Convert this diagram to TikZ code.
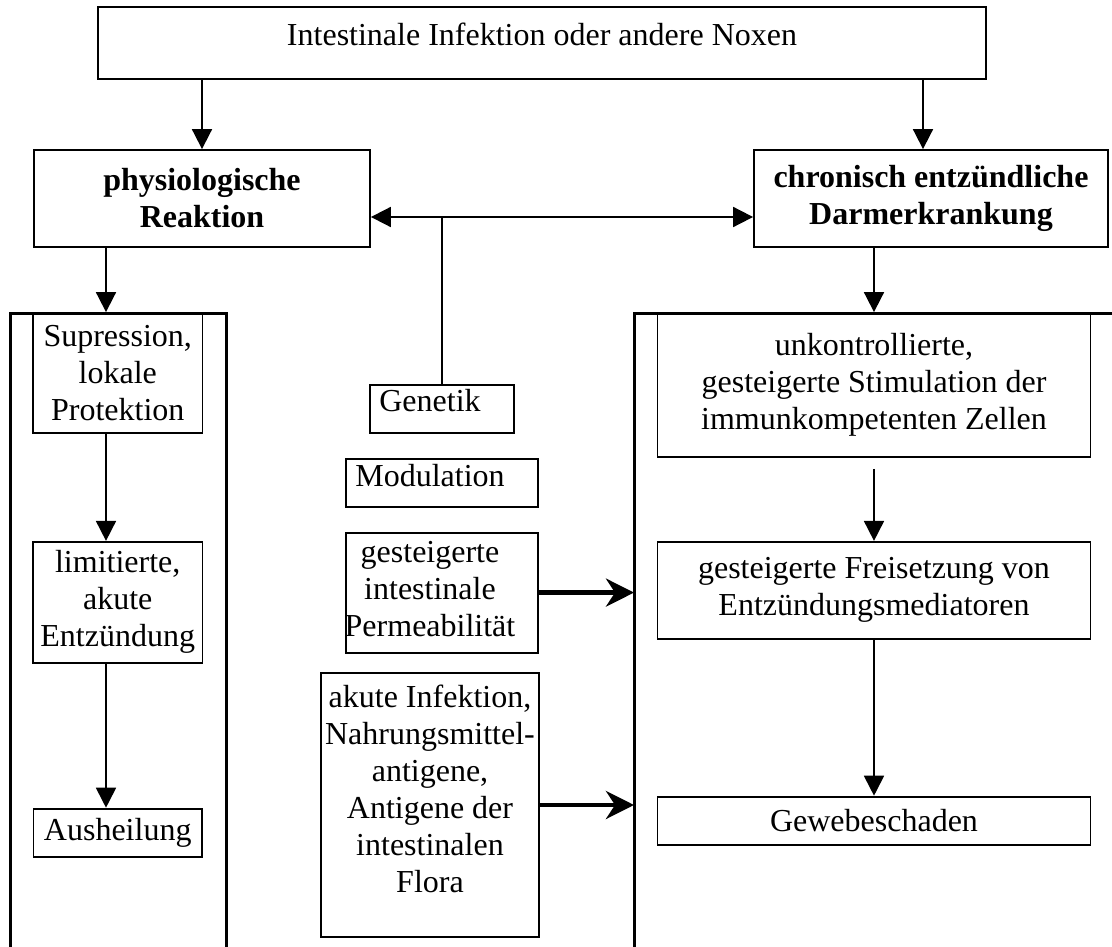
\documentclass[tikz,border=0pt]{standalone}
\usepackage{fontspec}
\setmainfont{Liberation Serif}
\usetikzlibrary{arrows.meta, positioning}

\begin{document}
\begin{tikzpicture}[
  x=1pt, y=-1pt,
  node distance=24pt,
  box/.style={rectangle, draw, line width=1.8pt, inner sep=2pt,
              align=center, font=\fontsize{32}{37}\selectfont},
  boldbox/.style={box, font=\fontsize{32}{37}\selectfont\bfseries},
  mtext/.style={align=center, font=\fontsize{32}{37}\selectfont,
                xshift=-12pt},
  arr/.style={-{Triangle[length=20pt, width=20pt]}, line width=1.8pt},
  dblarr/.style={{Triangle[length=20pt, width=20pt]}-{Triangle[length=20pt, width=20pt]},
                 line width=1.8pt},
  fatarr/.style={-{Stealth[length=28pt, width=28pt, inset=9pt]},
                 line width=4.5pt},
  frameline/.style={line width=3pt},
]
\useasboundingbox (0,0) rectangle (1112,947);

% Ausloeser und die beiden Reaktionen
\node[box, minimum width=888pt, minimum height=72pt, text depth=18pt] (noxe)
  at (542,43) {Intestinale Infektion oder andere Noxen};
\node[boldbox, minimum width=336pt, minimum height=97pt] (phys)
  at (202,198.5) {physiologische\\Reaktion};
\node[boldbox, minimum width=354pt, minimum height=97pt] (ced)
  at (931,198.5) {chronisch entzündliche\\Darmerkrankung};

% Rahmen der beiden Spalten
\draw[frameline] (10,947) -- (10,313) -- (226,313) -- (226,947);
\draw[frameline] (634,947) -- (634,313) -- (1112,313);
\coordinate (rframe) at (634,313);

% linke Spalte
\node[box, minimum width=169.5pt, minimum height=120pt] (supr)
  at (117.75,373) {Supression,\\lokale\\Protektion};
\node[box, minimum width=169.5pt, minimum height=121pt, below=107pt of supr] (limi)
  {limitierte,\\akute\\Entzündung};
\node[box, minimum width=168.5pt, minimum height=48pt, below=144pt of limi] (heil)
  {Ausheilung};

% mittlere Spalte
\node[box, minimum width=144pt, minimum height=48pt,
      label={[mtext, text depth=17pt]center:Genetik}] (gen) at (442,409) {};
\node[box, minimum width=192.6pt, minimum height=48pt, below=of gen,
      label={[mtext, text depth=14pt]center:Modulation}] (modu) {};
\node[box, minimum width=192.6pt, minimum height=120pt, below=of modu,
      label={[mtext, yshift=4pt]center:gesteigerte\\intestinale\\Permeabilität}] (perm) {};
\node[box, minimum width=218pt, minimum height=264pt,
      label={[mtext, xshift=12pt, yshift=16pt]center:akute Infektion,\\Nahrungsmittel-\\antigene,\\Antigene der\\intestinalen\\Flora}]
  (akut) at (430,805) {};

% rechte Spalte
\node[box, minimum width=433pt, minimum height=144pt] (stim)
  at (874,385) {unkontrollierte,\\gesteigerte Stimulation der\\immunkompetenten Zellen};
\node[box, minimum width=433pt, minimum height=97pt, below=83pt of stim] (frei)
  {gesteigerte Freisetzung von\\Entzündungsmediatoren};
\node[box, minimum width=433pt, minimum height=48pt, below=156pt of frei] (gew)
  {Gewebeschaden};

\coordinate (xl) at (106,0);
\coordinate (xr) at (923,0);
\coordinate (yq) at (0,217);

\draw[arr] (noxe.south -| phys.north) -- (phys.north);
\draw[arr] (noxe.south -| xr) -- (ced.north -| xr);
\draw[dblarr] (phys.east |- yq) -- (ced.west |- yq);
\draw[line width=1.4pt] (gen.north) -- (gen.north |- yq);

\draw[arr] (phys.south -| xl) -- (supr.north -| xl);
\draw[arr] (supr.south -| xl) -- (limi.north -| xl);
\draw[arr] (limi.south -| xl) -- (heil.north -| xl);

\draw[arr] (ced.south -| stim.north) -- (stim.north);
\draw[arr] ([yshift=-11pt]stim.south) -- (frei.north);
\draw[arr] (frei.south) -- (gew.north);

\draw[fatarr] (perm.east) -- (perm.east -| rframe);
\draw[fatarr] (akut.east) -- (akut.east -| rframe);

\end{tikzpicture}
\end{document}
